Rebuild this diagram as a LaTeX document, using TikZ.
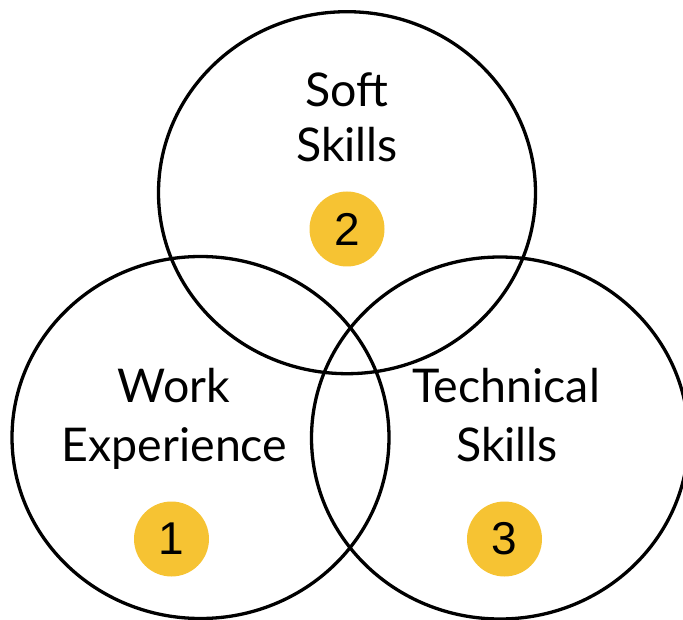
\documentclass[tikz,border=0pt]{standalone}
\usepackage{fontspec}
\setmainfont{Lato}
\newfontfamily\digitfont{Liberation Sans}
\usetikzlibrary{shapes.geometric}
\definecolor{badgeyellow}{HTML}{F6C333}
\begin{document}
\begin{tikzpicture}[x=1pt, y=-1pt,
  ring/.style={draw, line width=3.3pt, ellipse, minimum width=377pt, minimum height=362pt, inner sep=0pt},
  ringtext/.style={anchor=base, inner sep=0pt, font=\fontsize{46.5}{56}\selectfont},
  badge/.style={circle, fill=badgeyellow, minimum size=75pt, inner sep=0pt, font=\digitfont\fontsize{46}{46}\selectfont}]
\useasboundingbox (0,0) rectangle (683,620);

% Circles
\node[ring] (soft) at (347,192.7) {};
\node[ring] (work) at (200.5,437.5) {};
\node[ring] (tech) at (500,438) {};

% Soft skills
\node[ringtext] (softA) at (347,106.7) {Soft};
\node[ringtext] (softB) at (347,161.7) {Skills};
\node[badge] (two) at (347,229) {2};

% Work experience
\node[ringtext] (workA) at (174,402.7) {Work};
\node[ringtext] (workB) at (174.5,461) {Experience};
\node[badge] (one) at (171.5,539) {1};

% Technical skills
\node[ringtext] (techA) at (506,402.7) {Technical};
\node[ringtext] (techB) at (507,461) {Skills};
\node[badge] (three) at (504.5,539) {3};

\end{tikzpicture}
\end{document}
